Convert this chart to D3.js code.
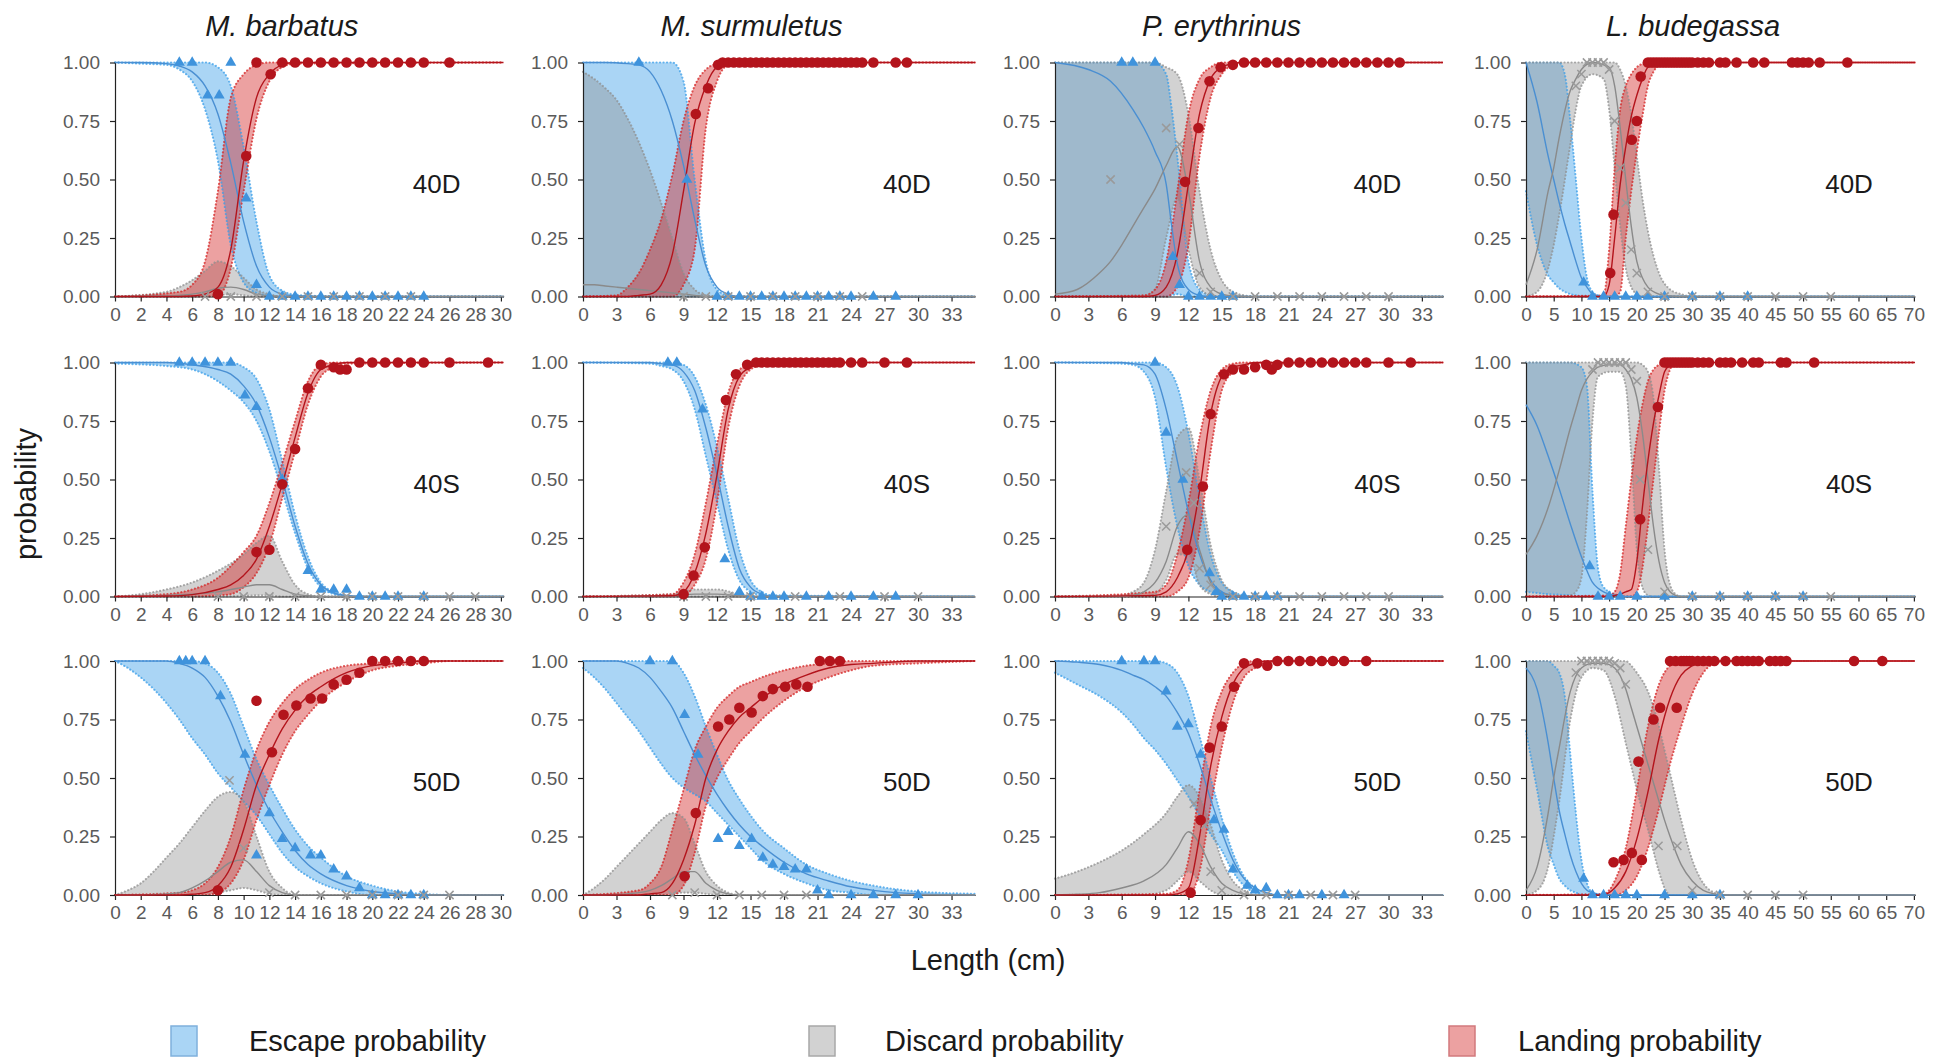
<!DOCTYPE html>
<html lang="en">
<head>
<meta charset="UTF-8">
<title>Escape, discard and landing probability</title>
<script src="https://d3js.org/d3.v7.min.js"></script>
<style>
  body { margin: 0; background: #fff; }
  text { font-family: "Liberation Sans", Arial, sans-serif; }
</style>
</head>
<body>
<script>
// ---- data: rows are [length, fit, lower, upper]; points are [length, observed] ----
const species = ["M. barbatus", "M. surmuletus", "P. erythrinus", "L. budegassa"];
const configs = ["40D", "40S", "50D"];
const xMax = [30.2, 35.1, 34.9, 70.2];
const labelX = [25, 29, 29, 58.3];
const yTicks = [0, 0.25, 0.5, 0.75, 1];
const xTicksBarb = [0,2,4,6,8,10,12,14,16,18,20,22,24,26,28,30];
const xTicksSurm = [0,3,6,9,12,15,18,21,24,27,30,33];
const xTicksEry = [0,3,6,9,12,15,18,21,24,27,30,33];
const xTicksBud = [0,5,10,15,20,25,30,35,40,45,50,55,60,65,70];

// M. barbatus 40D
const mbar40D_esc = [[0,1,1,1],[2,1,0.995,1],[4,0.995,0.99,1],[5,0.985,0.97,1],[6,0.96,0.92,1],[7,0.9,0.8,1],[8,0.78,0.58,0.98],[9,0.57,0.22,0.9],[10,0.32,0.06,0.64],[11,0.13,0.015,0.32],[12,0.04,0.003,0.09],[13,0.01,0,0.025],[14,0.003,0,0.008],[16,0,0,0.002],[20,0,0,0],[30.2,0,0,0]];
const mbar40D_disc = [[0,0,0,0],[4,0.002,0,0.02],[5,0.005,0,0.04],[6,0.01,0,0.07],[7,0.02,0,0.11],[8,0.035,0.005,0.15],[9,0.04,0.01,0.13],[10,0.03,0.005,0.08],[11,0.01,0,0.03],[12,0.003,0,0.01],[13,0,0,0],[30.2,0,0,0]];
const mbar40D_land = [[0,0,0,0],[5,0,0,0.02],[6,0.002,0,0.05],[7,0.01,0,0.15],[8,0.04,0.003,0.45],[9,0.2,0.12,0.85],[10,0.58,0.45,0.95],[11,0.85,0.76,0.99],[12,0.95,0.92,1],[13,0.99,0.98,1],[14,1,0.995,1],[30.2,1,1,1]];
const mbar40D_escPts = [[5,1],[6,1],[7.2,0.86],[8.1,0.86],[9,1],[10.2,0.42],[11,0.05],[12,0],[13,0],[14,0],[15,0],[16,0],[17,0],[18,0],[19,0],[20,0],[21,0],[22,0],[23,0],[24,0]];
const mbar40D_discPts = [[7,0],[9,0],[11,0],[13,0],[15,0],[17,0],[19,0],[21,0],[23,0]];
const mbar40D_landPts = [[8,0.01],[10.2,0.6],[11,1],[12.1,0.95],[13,1],[14,1],[15,1],[16,1],[17,1],[18,1],[19,1],[20,1],[21,1],[22,1],[23,1],[24,1],[26,1]];

// M. surmuletus 40D
const msur40D_esc = [[0,1,0,1],[2,1,0,1],[4,0.995,0,1],[5,0.99,0,1],[6,0.96,0,1],[7,0.88,0,1],[8,0.75,0,1],[9,0.56,0,0.92],[10,0.33,0,0.5],[11,0.13,0,0.15],[12,0.04,0,0.03],[13,0.01,0,0.005],[14,0,0,0],[35.1,0,0,0]];
const msur40D_disc = [[0,0.05,0,0.96],[1,0.05,0,0.93],[2,0.045,0,0.89],[3,0.04,0,0.84],[4,0.035,0,0.76],[5,0.03,0,0.66],[6,0.025,0,0.54],[7,0.02,0,0.4],[8,0.015,0,0.25],[9,0.01,0,0.1],[10,0.005,0,0.03],[11,0,0,0.005],[12,0,0,0],[35.1,0,0,0]];
const msur40D_land = [[0,0,0,0],[3,0,0,0.005],[4,0,0,0.04],[5,0.005,0,0.1],[6,0.01,0,0.2],[7,0.05,0,0.33],[8,0.18,0,0.52],[9,0.45,0.05,0.75],[10,0.74,0.2,0.9],[11,0.9,0.72,0.97],[12,0.98,0.92,0.995],[13,0.995,0.99,1],[14,1,1,1],[35.1,1,1,1]];
const msur40D_escPts = [[5,1],[9.3,0.5],[12,0],[13,0],[14,0],[15,0],[16,0],[17,0],[18,0],[19,0],[20,0],[21,0],[22,0],[23,0],[24,0],[26,0],[28,0]];
const msur40D_discPts = [[9,0],[11,0],[13,0],[15,0],[17,0],[19,0],[21,0],[23,0],[25,0]];
const msur40D_landPts = [[10.1,0.78],[11.2,0.89],[12.1,0.99],[12.5,1],[13,1],[13.5,1],[14,1],[14.5,1],[15,1],[15.5,1],[16,1],[16.5,1],[17,1],[17.5,1],[18,1],[18.5,1],[19,1],[19.5,1],[20,1],[20.5,1],[21,1],[21.5,1],[22,1],[22.5,1],[23,1],[23.5,1],[24,1],[24.5,1],[25,1],[26,1],[28,1],[29,1]];

// P. erythrinus 40D
const pery40D_esc = [[0,1,0,1],[3,0.97,0,1],[5,0.92,0,1],[7,0.8,0,1],[8,0.72,0,1],[9,0.62,0,1],[10,0.48,0,0.95],[10.5,0.3,0.005,0.8],[11,0.14,0.01,0.6],[12,0.03,0,0.15],[13,0.005,0,0.03],[14,0,0,0.005],[15,0,0,0],[34.9,0,0,0]];
const pery40D_disc = [[0,0.01,0,1],[2,0.03,0,1],[4,0.1,0,1],[5,0.15,0,1],[6,0.22,0,1],[7,0.3,0,1],[8,0.38,0,1],[9,0.46,0.03,1],[10,0.56,0.25,0.98],[11,0.64,0.42,0.95],[12,0.45,0.2,0.78],[13,0.15,0.04,0.45],[14,0.04,0.005,0.2],[15,0.01,0,0.07],[16,0.002,0,0.02],[17,0,0,0.005],[18,0,0,0],[34.9,0,0,0]];
const pery40D_land = [[0,0,0,0],[8,0,0,0.005],[9,0.005,0,0.03],[10,0.04,0,0.15],[11,0.18,0.04,0.45],[12,0.48,0.22,0.78],[13,0.78,0.6,0.93],[14,0.93,0.85,0.98],[15,0.98,0.95,1],[16,0.995,0.99,1],[17,1,1,1],[34.9,1,1,1]];
const pery40D_escPts = [[6,1],[7,1],[9,1],[10.6,0.17],[11.2,0.05],[12,0],[13,0],[14,0],[15,0],[16,0]];
const pery40D_discPts = [[5,0.5],[10,0.72],[11.2,0.65],[13,0.1],[14,0.02],[16,0],[18,0],[20,0],[22,0],[24,0],[26,0],[28,0],[30,0]];
const pery40D_landPts = [[11.7,0.49],[12.9,0.72],[13.9,0.92],[14.9,0.98],[16,0.99],[17,1],[18,1],[19,1],[20,1],[21,1],[22,1],[23,1],[24,1],[25,1],[26,1],[27,1],[28,1],[29,1],[30,1],[31,1]];

// L. budegassa 40D
const lbud40D_esc = [[0,1,0.45,1],[2,0.83,0.22,1],[4,0.6,0.09,1],[5,0.5,0.06,1],[6,0.4,0.035,1],[7,0.31,0.02,0.95],[8,0.23,0.01,0.75],[9,0.15,0.005,0.5],[10,0.08,0,0.25],[11,0.04,0,0.08],[12,0.01,0,0.02],[13,0.003,0,0.005],[14,0,0,0],[70.2,0,0,0]];
const lbud40D_disc = [[0,0.05,0,1],[2,0.2,0.02,1],[4,0.45,0.12,1],[5,0.55,0.22,1],[6,0.68,0.35,1],[8,0.88,0.65,1],[9,0.93,0.8,1],[10,0.97,0.9,1],[12,1,0.95,1],[14,0.99,0.93,1],[15,0.98,0.8,1],[16,0.9,0.55,1],[17,0.72,0.3,0.97],[18,0.5,0.12,0.9],[19,0.3,0.04,0.78],[20,0.15,0.01,0.6],[21,0.08,0,0.42],[22,0.04,0,0.28],[24,0.01,0,0.1],[26,0.002,0,0.03],[28,0,0,0.01],[30,0,0,0],[70.2,0,0,0]];
const lbud40D_land = [[0,0,0,0],[14,0,0,0.005],[15,0.05,0,0.2],[16,0.25,0,0.55],[17,0.48,0.02,0.8],[18,0.64,0.25,0.9],[19,0.77,0.45,0.95],[20,0.86,0.62,0.98],[21,0.93,0.77,0.995],[22,0.98,0.9,1],[23,0.99,0.96,1],[24,1,0.99,1],[25,1,1,1],[70.2,1,1,1]];
const lbud40D_escPts = [[10.4,0.06],[12,0],[14,0],[16,0],[18,0],[20,0],[22,0],[25,0],[30,0],[35,0],[40,0]];
const lbud40D_discPts = [[9,0.9],[10,0.95],[11,1],[12,1],[13,1],[14,1],[15,0.97],[16,0.75],[17,0.55],[18,0.4],[19,0.2],[20,0.1],[22,0.02],[25,0],[30,0],[35,0],[40,0],[45,0],[50,0],[55,0]];
const lbud40D_landPts = [[15.2,0.1],[15.8,0.35],[19.1,0.67],[20,0.75],[20.7,0.94],[22,1],[22.5,1],[23,1],[23.5,1],[24,1],[24.5,1],[25,1],[25.5,1],[26,1],[26.5,1],[27,1],[27.5,1],[28,1],[28.5,1],[29,1],[29.5,1],[30,1],[31,1],[32,1],[33,1],[35,1],[36,1],[38,1],[41,1],[43,1],[48,1],[49,1],[50,1],[51,1],[53,1],[58,1]];

// M. barbatus 40S
const mbar40S_esc = [[0,1,0.995,1],[4,1,0.985,1],[6,0.99,0.97,1],[8,0.97,0.92,1],[9,0.95,0.88,1],[10,0.9,0.83,0.98],[11,0.82,0.75,0.93],[12,0.68,0.62,0.8],[13,0.5,0.45,0.58],[14,0.3,0.27,0.35],[15,0.14,0.12,0.17],[16,0.05,0.04,0.06],[17,0.015,0.01,0.02],[18,0.004,0,0.005],[19,0,0,0],[30.2,0,0,0]];
const mbar40S_disc = [[0,0,0,0],[2,0.002,0,0.01],[4,0.005,0,0.03],[6,0.01,0,0.06],[8,0.02,0,0.11],[10,0.04,0.003,0.18],[11,0.05,0.005,0.23],[12,0.05,0.005,0.26],[13,0.03,0,0.15],[14,0.01,0,0.05],[15,0.003,0,0.01],[16,0,0,0],[30.2,0,0,0]];
const mbar40S_land = [[0,0,0,0],[4,0.002,0,0.01],[6,0.008,0,0.03],[8,0.03,0.005,0.08],[9,0.05,0.01,0.13],[10,0.09,0.04,0.19],[11,0.16,0.1,0.26],[12,0.3,0.22,0.4],[13,0.48,0.42,0.57],[14,0.68,0.62,0.75],[15,0.87,0.82,0.92],[16,0.97,0.94,0.99],[17,0.99,0.98,1],[18,1,0.995,1],[30.2,1,1,1]];
const mbar40S_escPts = [[5,1],[6,1],[7,1],[8,1],[9,1],[10.1,0.86],[11,0.81],[13,0.5],[15,0.11],[16,0.03],[17,0.03],[18,0.03],[19,0],[20,0],[21,0],[22,0],[24,0]];
const mbar40S_discPts = [[8,0],[10,0],[12,0],[14,0],[16,0],[18,0],[20,0],[22,0],[24,0],[26,0],[28,0]];
const mbar40S_landPts = [[11,0.19],[12,0.2],[13,0.48],[14,0.63],[15,0.89],[16,0.99],[17,0.98],[17.5,0.97],[18,0.97],[19,1],[20,1],[21,1],[22,1],[23,1],[24,1],[26,1],[29,1]];

// M. surmuletus 40S
const msur40S_esc = [[0,1,1,1],[6,1,0.995,1],[7,0.995,0.985,1],[8,0.99,0.97,1],[9,0.96,0.92,0.99],[10,0.88,0.8,0.94],[11,0.72,0.6,0.82],[12,0.52,0.4,0.64],[13,0.3,0.2,0.42],[14,0.12,0.07,0.2],[15,0.04,0.02,0.07],[16,0.01,0.005,0.02],[17,0,0,0.005],[35.1,0,0,0]];
const msur40S_disc = [[0,0,0,0],[8,0.003,0,0.01],[10,0.01,0,0.03],[12,0.01,0,0.03],[14,0.003,0,0.01],[16,0,0,0],[35.1,0,0,0]];
const msur40S_land = [[0,0,0,0],[8,0.003,0,0.01],[9,0.02,0.005,0.06],[10,0.1,0.05,0.18],[11,0.27,0.16,0.4],[12,0.52,0.4,0.65],[13,0.8,0.72,0.87],[14,0.94,0.9,0.97],[15,0.98,0.97,0.99],[16,0.995,0.99,1],[17,1,1,1],[35.1,1,1,1]];
const msur40S_escPts = [[7.6,1],[8.4,1],[10.7,0.8],[12.7,0.16],[14,0.02],[15,0],[16,0],[17,0],[18,0],[20,0],[22,0],[24,0],[26,0],[28,0]];
const msur40S_discPts = [[9,0],[11,0],[13,0],[15,0],[19,0],[23,0],[27,0],[30,0]];
const msur40S_landPts = [[9,0.01],[9.9,0.09],[10.9,0.21],[12.8,0.84],[13.7,0.95],[14.7,0.99],[15.5,1],[16,1],[16.5,1],[17,1],[17.5,1],[18,1],[18.5,1],[19,1],[19.5,1],[20,1],[20.5,1],[21,1],[21.5,1],[22,1],[22.5,1],[23,1],[24,1],[25,1],[27,1],[29,1]];

// P. erythrinus 40S
const pery40S_esc = [[0,1,1,1],[6,1,0.995,1],[7,0.995,0.99,1],[8,0.99,0.96,1],[9,0.95,0.85,1],[10,0.8,0.55,0.98],[11,0.58,0.3,0.9],[12,0.36,0.13,0.7],[13,0.18,0.05,0.42],[14,0.07,0.02,0.18],[15,0.02,0.005,0.06],[16,0.005,0,0.02],[17,0,0,0.005],[18,0,0,0],[34.9,0,0,0]];
const pery40S_disc = [[0,0,0,0],[6,0,0,0.005],[7,0.005,0,0.02],[8,0.02,0,0.06],[9,0.06,0.01,0.2],[10,0.15,0.07,0.45],[11,0.3,0.18,0.68],[12,0.35,0.18,0.72],[13,0.2,0.05,0.5],[14,0.06,0.01,0.22],[15,0.015,0,0.07],[16,0.003,0,0.02],[17,0,0,0],[34.9,0,0,0]];
const pery40S_land = [[0,0,0,0],[9,0.005,0,0.02],[10,0.02,0,0.05],[11,0.08,0.02,0.18],[12,0.2,0.08,0.4],[13,0.45,0.28,0.68],[14,0.78,0.62,0.88],[15,0.94,0.88,0.97],[16,0.98,0.96,0.995],[17,0.99,0.985,1],[18,1,0.995,1],[34.9,1,1,1]];
const pery40S_escPts = [[9,1],[10,0.7],[11.5,0.5],[13.9,0.1],[14.5,0.02],[15,0],[16,0],[17,0],[18,0],[19,0],[20,0]];
const pery40S_discPts = [[10,0.3],[11.8,0.53],[12.5,0.4],[13,0.12],[14,0.05],[16,0],[18,0],[20,0],[22,0],[24,0],[26,0],[28,0],[30,0]];
const pery40S_landPts = [[11.9,0.2],[13.3,0.47],[14,0.78],[15.2,0.95],[16,0.97],[17,0.97],[18,0.98],[19,0.99],[19.5,0.97],[20,0.99],[21,1],[22,1],[23,1],[24,1],[25,1],[26,1],[27,1],[28,1],[30,1],[32,1]];

// L. budegassa 40S
const lbud40S_esc = [[0,0.82,0.02,1],[2,0.73,0.015,1],[4,0.6,0.01,1],[6,0.46,0.008,1],[8,0.31,0.005,1],[10,0.17,0.002,0.98],[11,0.11,0,0.9],[12,0.06,0,0.45],[13,0.035,0,0.12],[14,0.02,0,0.04],[16,0.005,0,0.01],[18,0,0,0],[70.2,0,0,0]];
const lbud40S_disc = [[0,0.18,0,1],[2,0.26,0,1],[4,0.38,0,1],[6,0.54,0,1],[8,0.72,0.005,1],[9,0.8,0.02,1],[10,0.88,0.08,1],[11,0.93,0.35,1],[12,0.96,0.75,1],[13,0.98,0.94,1],[15,0.99,0.96,1],[17,0.99,0.96,1],[18,0.97,0.9,1],[19,0.93,0.6,1],[20,0.85,0.2,1],[21,0.7,0.04,0.99],[22,0.5,0.005,0.96],[23,0.3,0,0.85],[24,0.15,0,0.55],[25,0.06,0,0.2],[26,0.02,0,0.05],[27,0.005,0,0.01],[28,0,0,0],[70.2,0,0,0]];
const lbud40S_land = [[0,0,0,0],[15,0,0,0.005],[16,0.005,0,0.02],[17,0.01,0,0.1],[18,0.02,0,0.3],[19,0.03,0,0.5],[20,0.15,0.02,0.68],[21,0.38,0.12,0.82],[22,0.58,0.3,0.92],[23,0.74,0.5,0.97],[24,0.86,0.7,0.99],[25,0.96,0.88,1],[26,0.99,0.97,1],[27,1,1,1],[70.2,1,1,1]];
const lbud40S_escPts = [[11.5,0.13],[13,0],[15,0],[17,0],[20,0],[25,0],[30,0],[35,0],[40,0],[45,0],[50,0]];
const lbud40S_discPts = [[12,0.97],[13,1],[14,1],[15,1],[16,1],[17,1],[18,1],[19,0.97],[20,0.92],[20.6,0.5],[22,0.2],[25,0.02],[30,0],[35,0],[40,0],[45,0],[50,0],[55,0]];
const lbud40S_landPts = [[20.6,0.33],[23.8,0.81],[25,1],[25.5,1],[26,1],[26.5,1],[27,1],[27.5,1],[28,1],[28.5,1],[29,1],[29.5,1],[30,1],[31,1],[32,1],[33,1],[35,1],[36,1],[37,1],[39,1],[41,1],[42,1],[46,1],[47,1],[52,1]];

// M. barbatus 50D
const mbar50D_esc = [[0,1,1,1],[1,1,0.97,1],[2,1,0.93,1],[3,1,0.88,1],[4,1,0.82,1],[5,0.99,0.75,1],[6,0.97,0.67,1],[7,0.93,0.6,0.99],[8,0.85,0.52,0.95],[9,0.74,0.46,0.86],[10,0.6,0.4,0.72],[11,0.47,0.34,0.58],[12,0.36,0.26,0.47],[13,0.27,0.18,0.37],[14,0.19,0.12,0.28],[15,0.13,0.08,0.21],[16,0.09,0.05,0.16],[18,0.04,0.015,0.08],[20,0.015,0,0.04],[22,0.005,0,0.015],[24,0,0,0.005],[26,0,0,0],[30.2,0,0,0]];
const mbar50D_disc = [[0,0,0,0],[1,0,0,0.02],[2,0,0,0.05],[3,0.002,0,0.1],[4,0.005,0,0.16],[5,0.01,0,0.22],[6,0.03,0,0.29],[7,0.06,0,0.36],[8,0.1,0.01,0.42],[9,0.14,0.02,0.44],[10,0.15,0.03,0.4],[11,0.1,0.02,0.25],[12,0.04,0.005,0.1],[13,0.01,0,0.03],[14,0,0,0],[30.2,0,0,0]];
const mbar50D_land = [[0,0,0,0],[5,0,0,0.01],[6,0.003,0,0.02],[7,0.01,0,0.05],[8,0.04,0.01,0.12],[9,0.12,0.05,0.25],[10,0.28,0.15,0.45],[11,0.47,0.32,0.62],[12,0.6,0.47,0.74],[13,0.71,0.6,0.82],[14,0.79,0.7,0.88],[15,0.85,0.77,0.92],[16,0.89,0.83,0.95],[18,0.95,0.91,0.98],[20,0.98,0.96,0.99],[22,0.99,0.98,1],[24,1,0.99,1],[26,1,1,1],[30.2,1,1,1]];
const mbar50D_escPts = [[5,1],[5.5,1],[6,1],[7,1],[8.2,0.85],[10.1,0.6],[11,0.17],[12,0.35],[13,0.24],[14,0.2],[15.2,0.17],[16,0.17],[17,0.11],[18,0.08],[19,0.03],[20,0],[21,0],[22,0],[23,0],[24,0]];
const mbar50D_discPts = [[8.9,0.49],[10,0.2],[12,0.01],[14,0],[16,0],[18,0],[20,0],[22,0],[24,0],[26,0]];
const mbar50D_landPts = [[8,0.02],[11,0.83],[12.2,0.61],[13.1,0.77],[14.1,0.81],[15.2,0.84],[16.1,0.84],[17,0.9],[18,0.92],[19,0.95],[20,1],[21,1],[22,1],[23,1],[24,1]];

// M. surmuletus 50D
const msur50D_esc = [[0,1,0.97,1],[1,1,0.93,1],[2,1,0.88,1],[3,1,0.82,1],[4,0.99,0.76,1],[5,0.97,0.7,1],[6,0.93,0.63,1],[7,0.87,0.56,1],[8,0.8,0.5,1],[9,0.7,0.46,0.95],[10,0.6,0.43,0.85],[11,0.51,0.4,0.72],[12,0.43,0.35,0.6],[13,0.36,0.3,0.49],[14,0.3,0.25,0.41],[15,0.25,0.2,0.34],[16,0.21,0.15,0.28],[18,0.14,0.09,0.2],[20,0.09,0.05,0.13],[22,0.06,0.02,0.09],[24,0.035,0.01,0.06],[26,0.02,0,0.04],[28,0.01,0,0.025],[30,0.005,0,0.015],[35.1,0,0,0.005]];
const msur50D_disc = [[0,0,0,0],[1,0,0,0.03],[2,0,0,0.07],[3,0.002,0,0.12],[4,0.005,0,0.17],[5,0.01,0,0.22],[6,0.02,0,0.27],[7,0.04,0,0.32],[8,0.07,0.005,0.35],[9,0.1,0.01,0.33],[10,0.1,0.01,0.22],[11,0.05,0.005,0.1],[12,0.02,0,0.04],[13,0.005,0,0.01],[14,0,0,0],[35.1,0,0,0]];
const msur50D_land = [[0,0,0,0],[5,0,0,0.02],[6,0.005,0,0.05],[7,0.01,0,0.12],[8,0.05,0,0.28],[9,0.15,0.04,0.45],[10,0.3,0.18,0.62],[11,0.5,0.38,0.72],[12,0.62,0.5,0.8],[13,0.7,0.58,0.85],[14,0.76,0.65,0.89],[15,0.8,0.7,0.91],[16,0.84,0.75,0.93],[18,0.9,0.83,0.96],[20,0.94,0.89,0.98],[22,0.97,0.93,0.99],[24,0.985,0.96,1],[26,0.99,0.98,1],[30,1,0.99,1],[35.1,1,1,1]];
const msur50D_escPts = [[6,1],[8,1],[9.1,0.77],[10.3,0.6],[12.1,0.24],[13,0.27],[14,0.21],[15.1,0.24],[16.1,0.16],[17,0.13],[18,0.12],[19,0.11],[20,0.11],[21,0.02],[22,0],[24,0],[26,0],[28,0],[30,0]];
const msur50D_discPts = [[8,0],[10,0.01],[12,0],[14,0],[16,0],[18,0],[20,0]];
const msur50D_landPts = [[9.1,0.08],[10.1,0.35],[12.1,0.72],[13.1,0.75],[14,0.8],[15.1,0.78],[16.1,0.85],[17,0.88],[18.1,0.89],[19.1,0.9],[20.1,0.89],[21.2,1],[22.1,1],[23,1]];

// P. erythrinus 50D
const pery50D_esc = [[0,1,0.95,1],[2,0.995,0.9,1],[4,0.985,0.85,1],[6,0.96,0.78,1],[7,0.94,0.73,1],[8,0.92,0.67,1],[9,0.89,0.62,1],[10,0.85,0.56,0.99],[11,0.78,0.49,0.95],[12,0.69,0.42,0.85],[13,0.56,0.34,0.68],[14,0.41,0.26,0.5],[15,0.27,0.19,0.33],[16,0.15,0.1,0.18],[17,0.07,0.04,0.08],[18,0.03,0.01,0.03],[19,0.01,0,0.01],[20,0,0,0],[34.9,0,0,0]];
const pery50D_disc = [[0,0,0,0.07],[2,0.003,0,0.1],[4,0.01,0,0.14],[6,0.03,0,0.19],[8,0.06,0,0.26],[10,0.13,0.02,0.35],[11,0.2,0.06,0.42],[12,0.27,0.1,0.47],[13,0.22,0.06,0.42],[14,0.12,0.02,0.3],[15,0.05,0,0.15],[16,0.02,0,0.06],[17,0.005,0,0.02],[18,0,0,0],[34.9,0,0,0]];
const pery50D_land = [[0,0,0,0],[10,0,0,0.005],[11,0.005,0,0.02],[12,0.03,0,0.15],[13,0.25,0.1,0.45],[14,0.55,0.38,0.72],[15,0.76,0.63,0.87],[16,0.9,0.82,0.95],[17,0.97,0.93,0.99],[18,0.99,0.97,1],[19,1,0.99,1],[20,1,1,1],[34.9,1,1,1]];
const pery50D_escPts = [[6,1],[8,1],[9,1],[10,0.87],[11,0.72],[12,0.73],[13.1,0.6],[14.3,0.32],[15.2,0.28],[16,0.11],[17.3,0.04],[18,0.02],[19,0.03],[20,0],[21,0],[22,0],[24,0],[26,0]];
const pery50D_discPts = [[12.5,0.39],[13.5,0.3],[14,0.1],[15,0.02],[17,0],[19,0],[21,0],[23,0],[25,0],[27,0]];
const pery50D_landPts = [[12.2,0.01],[13.1,0.32],[13.9,0.63],[15,0.72],[16.1,0.89],[17,0.99],[18.2,0.99],[19.1,0.98],[20,1],[21,1],[22,1],[23,1],[24,1],[25,1],[26,1],[28,1]];

// L. budegassa 50D
const lbud50D_esc = [[0,0.97,0.7,1],[2,0.88,0.45,1],[4,0.65,0.2,1],[5,0.5,0.13,0.98],[6,0.36,0.07,0.95],[7,0.26,0.04,0.85],[8,0.17,0.02,0.6],[9,0.1,0.01,0.35],[10,0.05,0,0.15],[11,0.02,0,0.05],[12,0.01,0,0.01],[14,0,0,0],[70.2,0,0,0]];
const lbud50D_disc = [[0,0.02,0,1],[2,0.12,0.02,1],[4,0.35,0.12,1],[5,0.5,0.25,1],[6,0.63,0.4,1],[8,0.87,0.75,1],[10,0.97,0.93,1],[12,0.99,0.97,1],[14,0.99,0.96,1],[16,0.97,0.85,1],[18,0.88,0.65,1],[19,0.8,0.55,0.98],[20,0.72,0.45,0.95],[22,0.56,0.28,0.87],[24,0.4,0.1,0.72],[25,0.32,0.03,0.62],[26,0.25,0,0.52],[28,0.13,0,0.32],[30,0.06,0,0.15],[32,0.02,0,0.05],[34,0.005,0,0.01],[36,0,0,0],[70.2,0,0,0]];
const lbud50D_land = [[0,0,0,0],[14,0,0,0.005],[15,0.01,0,0.02],[16,0.03,0,0.06],[18,0.1,0.02,0.2],[20,0.24,0.08,0.45],[22,0.44,0.2,0.72],[24,0.67,0.37,0.9],[26,0.84,0.56,0.98],[28,0.94,0.72,1],[30,0.98,0.86,1],[32,1,0.95,1],[34,1,0.99,1],[36,1,1,1],[70.2,1,1,1]];
const lbud50D_escPts = [[10.4,0.07],[12,0],[14,0],[16,0],[18,0],[20,0],[25,0],[30,0],[35,0]];
const lbud50D_discPts = [[9,0.95],[10,1],[11,1],[12,1],[13,1],[14,1],[15,1],[16,0.99],[17,0.97],[18,0.9],[23.9,0.21],[27.3,0.21],[30,0.02],[35,0],[40,0],[45,0],[50,0]];
const lbud50D_landPts = [[15.8,0.14],[17.6,0.15],[19.1,0.18],[20.9,0.15],[20.3,0.57],[23,0.75],[24.2,0.8],[27.2,0.8],[26,1],[27,1],[28,1],[28.5,1],[29,1],[29.5,1],[30,1],[31,1],[32,1],[33,1],[34,1],[36,1],[38,1],[39,1],[40,1],[41,1],[42,1],[44,1],[45,1],[46,1],[47,1],[59.2,1],[64.3,1]];

// ---- panel table built from the arrays above (row = config, col = species) ----
const panels = [
  {r:0, c:0, esc:mbar40D_esc, disc:mbar40D_disc, land:mbar40D_land, escPts:mbar40D_escPts, discPts:mbar40D_discPts, landPts:mbar40D_landPts},
  {r:0, c:1, esc:msur40D_esc, disc:msur40D_disc, land:msur40D_land, escPts:msur40D_escPts, discPts:msur40D_discPts, landPts:msur40D_landPts},
  {r:0, c:2, esc:pery40D_esc, disc:pery40D_disc, land:pery40D_land, escPts:pery40D_escPts, discPts:pery40D_discPts, landPts:pery40D_landPts},
  {r:0, c:3, esc:lbud40D_esc, disc:lbud40D_disc, land:lbud40D_land, escPts:lbud40D_escPts, discPts:lbud40D_discPts, landPts:lbud40D_landPts},
  {r:1, c:0, esc:mbar40S_esc, disc:mbar40S_disc, land:mbar40S_land, escPts:mbar40S_escPts, discPts:mbar40S_discPts, landPts:mbar40S_landPts},
  {r:1, c:1, esc:msur40S_esc, disc:msur40S_disc, land:msur40S_land, escPts:msur40S_escPts, discPts:msur40S_discPts, landPts:msur40S_landPts},
  {r:1, c:2, esc:pery40S_esc, disc:pery40S_disc, land:pery40S_land, escPts:pery40S_escPts, discPts:pery40S_discPts, landPts:pery40S_landPts},
  {r:1, c:3, esc:lbud40S_esc, disc:lbud40S_disc, land:lbud40S_land, escPts:lbud40S_escPts, discPts:lbud40S_discPts, landPts:lbud40S_landPts},
  {r:2, c:0, esc:mbar50D_esc, disc:mbar50D_disc, land:mbar50D_land, escPts:mbar50D_escPts, discPts:mbar50D_discPts, landPts:mbar50D_landPts},
  {r:2, c:1, esc:msur50D_esc, disc:msur50D_disc, land:msur50D_land, escPts:msur50D_escPts, discPts:msur50D_discPts, landPts:msur50D_landPts},
  {r:2, c:2, esc:pery50D_esc, disc:pery50D_disc, land:pery50D_land, escPts:pery50D_escPts, discPts:pery50D_discPts, landPts:pery50D_landPts},
  {r:2, c:3, esc:lbud50D_esc, disc:lbud50D_disc, land:lbud50D_land, escPts:lbud50D_escPts, discPts:lbud50D_discPts, landPts:lbud50D_landPts}
];
const xTicks = [xTicksBarb, xTicksSurm, xTicksEry, xTicksBud];

// ---- layout ----
const W = 1948, H = 1062;
const colLeft = [115, 583, 1055, 1526];
const colRight = [503.5, 975, 1443, 1915];
const rowTop = [62.5, 362.5, 661];
const panelH = 234;

const col = {
  esc:  {fill: "#3a9ee8", op: 0.43, line: "#4a8fd2", pt: "#3f93dc"},
  disc: {fill: "#8f8f8f", op: 0.4,  line: "#8a8a8a", pt: "#9a9a9a"},
  land: {fill: "#d42424", op: 0.43, line: "#b3141c", pt: "#b3141c"}
};

const svg = d3.select("body").append("svg")
  .attr("width", W).attr("height", H)
  .style("display", "block");

panels.forEach(p => {
  const x = d3.scaleLinear().domain([0, xMax[p.c]]).range([colLeft[p.c], colRight[p.c]]);
  const y = d3.scaleLinear().domain([0, 1]).range([rowTop[p.r] + panelH, rowTop[p.r]]);
  const g = svg.append("g");

  const area = d3.area().x(d => x(d[0])).y0(d => y(d[2])).y1(d => y(d[3])).curve(d3.curveMonotoneX);
  const lineOf = i => d3.line().x(d => x(d[0])).y(d => y(d[i])).curve(d3.curveMonotoneX);

  ["esc", "disc", "land"].forEach(k => {
    g.append("path").attr("d", area(p[k]))
      .attr("fill", col[k].fill).attr("fill-opacity", col[k].op).attr("stroke", "none");
  });
  // dotted confidence limits
  ["esc", "disc", "land"].forEach(k => {
    [2, 3].forEach(i => {
      g.append("path").attr("d", lineOf(i)(p[k]))
        .attr("fill", "none").attr("stroke", col[k].fill).attr("stroke-opacity", 0.75)
        .attr("stroke-width", 2.1).attr("stroke-linecap", "round")
        .attr("stroke-dasharray", "0.1,3.4");
    });
  });

  // axes
  const ax = g.append("g").attr("transform", `translate(${colLeft[p.c]},0)`)
    .call(d3.axisLeft(y).tickValues(yTicks).tickFormat(d3.format(".2f")).tickSize(5).tickSizeOuter(0).tickPadding(10));
  const bx = g.append("g").attr("transform", `translate(0,${rowTop[p.r] + panelH})`)
    .call(d3.axisBottom(x).tickValues(xTicks[p.c]).tickSize(5).tickSizeOuter(0).tickPadding(6));
  [ax, bx].forEach(a => {
    a.select(".domain").attr("stroke", "#222").attr("stroke-width", 1.2);
    a.selectAll(".tick line").attr("stroke", "#222").attr("stroke-width", 1.2);
    a.selectAll(".tick text").attr("fill", "#5a5a5a").style("font-size", "19px")
      .style("font-family", "'Liberation Sans', Arial, sans-serif");
  });

  // fitted curves
  ["esc", "disc", "land"].forEach(k => {
    g.append("path").attr("d", lineOf(1)(p[k]))
      .attr("fill", "none").attr("stroke", col[k].line).attr("stroke-width", 1.4);
  });

  // observed points
  g.selectAll(".tri").data(p.escPts).join("path")
    .attr("d", d3.symbol(d3.symbolTriangle, 52))
    .attr("transform", d => `translate(${x(d[0])},${y(d[1])})`)
    .attr("fill", col.esc.pt);
  g.selectAll(".xx").data(p.discPts).join("path")
    .attr("d", d3.symbol(d3.symbolX, 46))
    .attr("transform", d => `translate(${x(d[0])},${y(d[1])})`)
    .attr("fill", "none").attr("stroke", col.disc.pt).attr("stroke-width", 1.5);
  g.selectAll(".dot").data(p.landPts).join("circle")
    .attr("cx", d => x(d[0])).attr("cy", d => y(d[1])).attr("r", 5.3)
    .attr("fill", col.land.pt);

  // configuration label
  g.append("text").attr("x", x(labelX[p.c])).attr("y", y(0.5) + 13)
    .attr("text-anchor", "middle").style("font-size", "26px").attr("fill", "#1a1a1a")
    .text(configs[p.r]);
});

// column titles
species.forEach((s, i) => {
  svg.append("text").attr("x", (colLeft[i] - 55 + colRight[i]) / 2).attr("y", 36)
    .attr("text-anchor", "middle").style("font-size", "29px").style("font-style", "italic")
    .attr("fill", "#1a1a1a").text(s);
});

// axis titles
svg.append("text").attr("x", 988).attr("y", 970).attr("text-anchor", "middle")
  .style("font-size", "29px").attr("fill", "#1a1a1a").text("Length (cm)");
svg.append("text").attr("transform", "translate(36,494) rotate(-90)").attr("text-anchor", "middle")
  .style("font-size", "29px").attr("fill", "#1a1a1a").text("probability");

// legend
const legendItems = [
  {k: "esc", label: "Escape probability", kx: 184, tx: 249, stroke: "#7fb0dc"},
  {k: "disc", label: "Discard probability", kx: 822, tx: 885, stroke: "#a8a8a8"},
  {k: "land", label: "Landing probability", kx: 1462, tx: 1518, stroke: "#d27a7d"}
];
legendItems.forEach(it => {
  svg.append("rect").attr("x", it.kx - 13).attr("y", 1041 - 15).attr("width", 26).attr("height", 30)
    .attr("fill", col[it.k].fill).attr("fill-opacity", col[it.k].op)
    .attr("stroke", it.stroke).attr("stroke-width", 1.5);
  svg.append("text").attr("x", it.tx).attr("y", 1051)
    .style("font-size", "29px").attr("fill", "#1a1a1a").text(it.label);
});
</script>
</body>
</html>
